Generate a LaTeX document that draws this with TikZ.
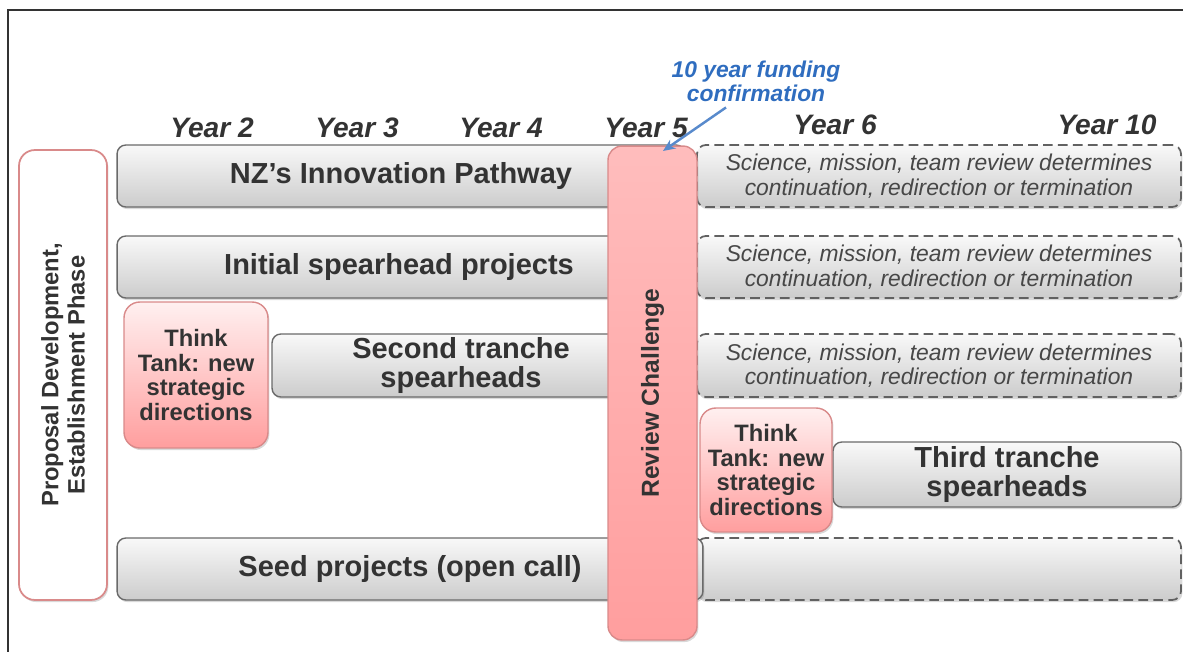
\documentclass[tikz,border=0pt]{standalone}
\usepackage{fontspec}
\setmainfont{Liberation Sans}
\usetikzlibrary{shadows,arrows.meta}
\definecolor{inktext}{HTML}{333333}
\definecolor{fundblue}{HTML}{2F6DBF}
\definecolor{barline}{HTML}{6A6A6A}
\definecolor{pinkline}{HTML}{D98A8A}
\tikzset{
  softshadow/.style={drop shadow={opacity=0.3,shadow xshift=0.8pt,shadow yshift=-1.2pt}},
  bar/.style={draw=barline, line width=0.8pt, rounded corners=5pt,
    top color=gray!5, bottom color=gray!40, softshadow, text=inktext,
    font=\fontsize{16.5}{16}\selectfont\bfseries, align=center, inner sep=0pt},
  dashbar/.style={bar, draw=black!62, line width=1pt, dash pattern=on 5.5pt off 3pt,
    text=black!72, font=\fontsize{13}{14}\selectfont\itshape},
  tank/.style={draw=pinkline, line width=0.8pt, rounded corners=9pt,
    top color=red!6, bottom color=red!38, softshadow, text=inktext,
    font=\fontsize{13.5}{14}\selectfont\bfseries, align=center, inner sep=0pt},
  yearlab/.style={font=\fontsize{16}{16}\selectfont\bfseries\itshape, text=inktext}
}
\newcommand{\reviewtext}{Science, mission, team review determines\\continuation, redirection or termination}
\begin{document}
\begin{tikzpicture}[x=0.02cm, y=-0.02cm]
\useasboundingbox (0,0) rectangle (1183,652);
\draw[line width=1.2pt, inktext] (8,652) -- (8,10) -- (1183,10);

% years along the top
\foreach \yr/\xx/\yy in {2/212/128, 3/357/128, 4/501/128, 5/646/128, 6/835/125, 10/1107/125}
{
  \node[yearlab] (year\yr) at (\xx,\yy) {Year \yr};
}

% proposal phase
\node[draw=pinkline, line width=1pt, fill=white, rounded corners=9pt, softshadow,
  rotate=90, minimum width=9cm, minimum height=1.76cm, align=center, text=inktext,
  font=\fontsize{13.5}{15}\selectfont\bfseries] (phase) at (63,375)
  {Proposal Development,\\Establishment Phase};

% after the review: dashed
\node[dashbar, minimum width=9.68cm, minimum height=1.24cm] (cont1) at (939,176) {\reviewtext};
\node[dashbar, minimum width=9.68cm, minimum height=1.24cm] (cont2) at (939,267) {\reviewtext};
\node[dashbar, minimum width=9.68cm, minimum height=1.26cm] (cont3) at (939,365.5) {\reviewtext};
\node[dashbar, minimum width=9.68cm, minimum height=1.24cm] (cont4) at (939,569) {};

% programmes
\node[bar, minimum width=11.36cm, minimum height=1.24cm] (pathway) at (401,176) {NZ’s Innovation Pathway};
\node[bar, minimum width=11.28cm, minimum height=1.24cm] (initial) at (399,267) {Initial spearhead projects};
\node[bar, minimum width=7.56cm, minimum height=1.26cm] (second) at (461,365.5) {Second tranche\\spearheads};
\node[bar, minimum width=11.72cm, minimum height=1.24cm] (seed) at (410,569) {Seed projects (open call)};
\node[bar, minimum width=6.96cm, minimum height=1.30cm] (third) at (1007,474.5) {Third tranche\\spearheads};

% review
\node[draw=pinkline, line width=0.8pt, rounded corners=8pt, top color=red!26, bottom color=red!38,
  softshadow, rotate=90, minimum width=9.88cm, minimum height=1.78cm, text=inktext,
  font=\fontsize{14}{14}\selectfont\bfseries] (review) at (652.5,393) {Review Challenge};

% think tanks
\node[tank, minimum width=2.88cm, minimum height=2.92cm] (tank1) at (196,375) {Think\\Tank: new\\strategic\\directions};
\node[tank, minimum width=2.64cm, minimum height=2.48cm] (tank2) at (766,470) {Think\\Tank: new\\strategic\\directions};

% funding
\node[font=\fontsize{13}{13.5}\selectfont\bfseries\itshape, text=fundblue, align=center] (fund) at (756,81)
  {10 year funding\\confirmation};
\coordinate (hit) at (663,151);
\draw[-{Stealth[length=7pt,width=6pt]}, line width=1.4pt, fundblue!80] ([xshift=-0.6cm]fund.south) -- (hit);

\end{tikzpicture}
\end{document}
